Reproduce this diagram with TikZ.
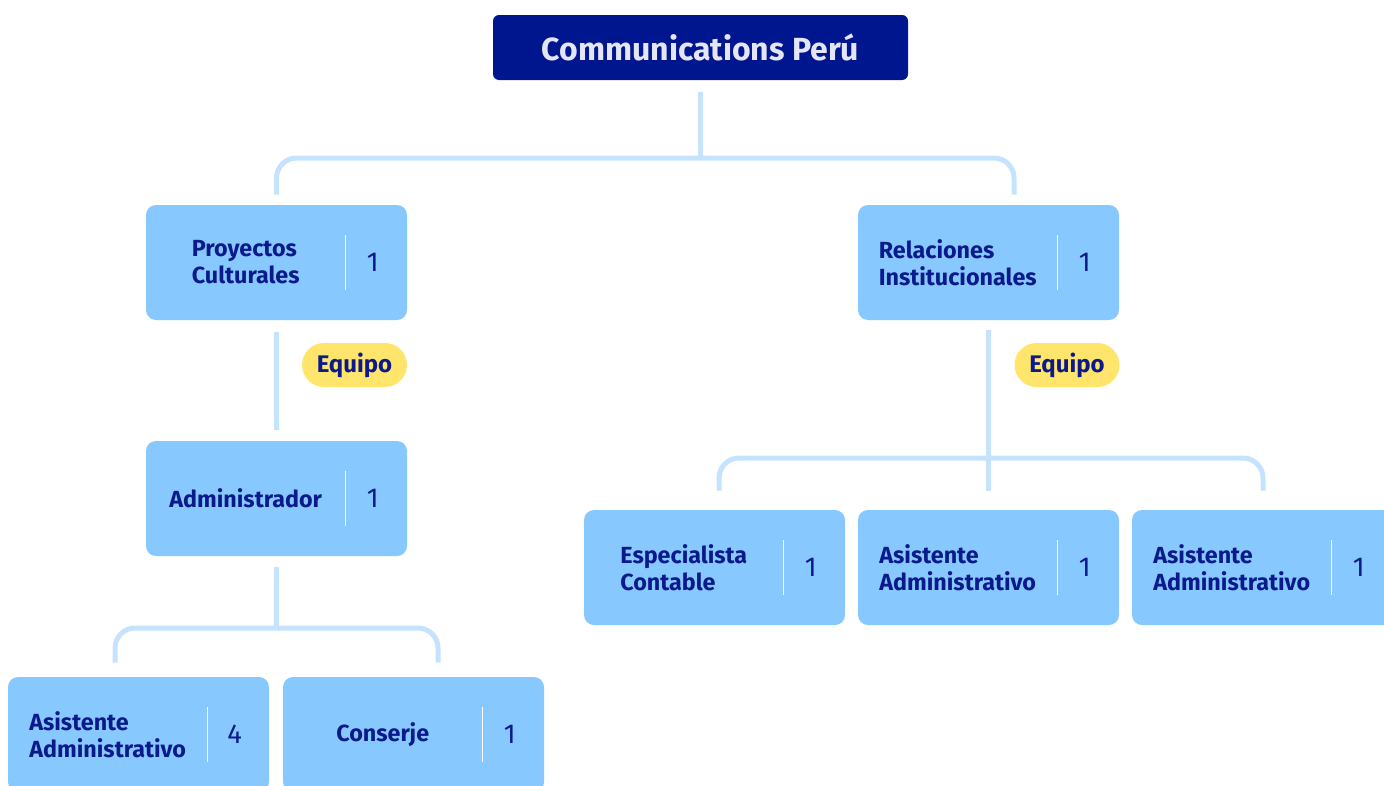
\documentclass[tikz,border=0pt]{standalone}
\usepackage{fontspec}
\setmainfont{Fira Sans}
\usetikzlibrary{calc,positioning}
\definecolor{navy}{HTML}{00168F}
\definecolor{sky}{HTML}{87C8FF}
\definecolor{pale}{HTML}{C5E3FF}
\definecolor{ink}{HTML}{0A1A8C}
\definecolor{gold}{HTML}{FFE56B}
\definecolor{lilac}{HTML}{E4E6F8}

\begin{document}
\begin{tikzpicture}[x=0.75pt,y=-0.75pt,
    head/.style={fill=navy,rounded corners=4.5pt,minimum width=311.25pt,minimum height=48.75pt,
      text=lilac,font=\fontsize{24}{26}\selectfont\bfseries},
    card/.style={fill=sky,rounded corners=7.5pt,minimum width=195.75pt,minimum height=86.25pt,inner sep=0pt},
    lbl/.style={text=ink,align=left,inner sep=0pt,font=\fontsize{17.5}{20.25}\selectfont\bfseries},
    num/.style={text=ink,inner sep=0pt,font=\fontsize{20.5}{22}\selectfont},
    sep/.style={white,line width=1.1pt},
    tag/.style={fill=gold,rounded corners=16.5pt,minimum width=78.75pt,minimum height=33pt,
      text=ink,font=\fontsize{18}{20}\selectfont\bfseries},
    wire/.style={pale,line width=3.75pt,rounded corners=15pt}]
    \useasboundingbox (0,0) rectangle (1384,785);
    \clip (0,0) rectangle (1384,785);

    \node[head] (top) at (700.5,47.5) {Communications Perú};

    \foreach \nm/\cx/\cy/\txt/\num in {
        pc/276.5/262.5/{Proyectos\\Culturales}/1,
        ri/988.5/262.5/{Relaciones\\Institucionales}/1,
        adm/276.5/498.5/Administrador/1,
        aa/138.5/734.5/{Asistente\\Administrativo}/4,
        con/413.5/734.5/Conserje/1,
        ec/714.5/567.5/{Especialista\\Contable}/1,
        ra/988.5/567.5/{Asistente\\Administrativo}/1,
        rb/1262.5/567.5/{Asistente\\Administrativo}/1}{
        \node[card] (\nm) at (\cx,\cy) {};
        \node[lbl] (\nm-t) at ($(\nm.west)+(100,0)$) {\txt};
        \draw[sep] ($(\nm.west)+(200,-27.5)$) -- ($(\nm.west)+(200,27.5)$);
        \node[num] (\nm-n) at ($(\nm.west)+(227,0)$) {\num};
    }

    \node[tag] (eq1) at (354.5,365) {Equipo};
    \node[tag] (eq2) at (1067,365) {Equipo};

    \coordinate (j1) at (700.5,158);
    \coordinate (j2) at (276.5,628);
    \coordinate (j3) at (988.5,458);

    \draw[wire] ($(top.south)+(0,12)$) -- (j1);
    \draw[wire] ($(pc.north)+(0,-10)$) |- (j1) -| ($(ri.north)+(25.5,-10)$);
    \draw[wire] ($(pc.south)+(0,12)$) -- ($(adm.north)+(0,-11)$);
    \draw[wire] ($(adm.south)+(0,11)$) -- (j2);
    \draw[wire] ($(aa.north)+(-23.5,-14)$) |- (j2) -| ($(con.north)+(24.5,-14)$);
    \draw[wire] ($(ri.south)+(0,10)$) -- ($(ra.north)+(0,-19)$);
    \draw[wire] ($(ec.north)+(4.5,-19)$) |- (j3) -| ($(rb.north)+(0.5,-19)$);
\end{tikzpicture}
\end{document}
